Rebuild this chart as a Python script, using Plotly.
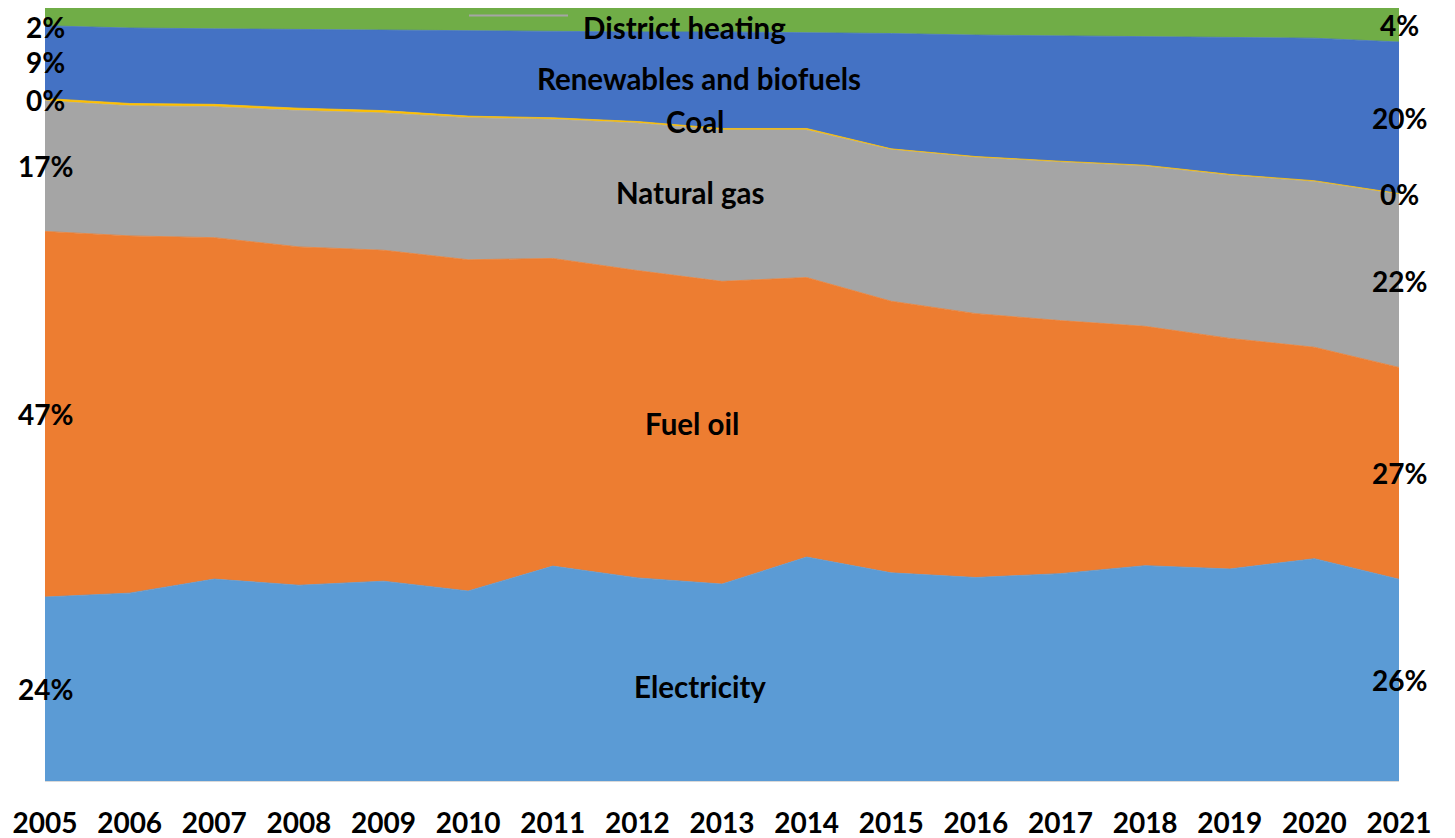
import plotly.graph_objects as go

years = [2005, 2006, 2007, 2008, 2009, 2010, 2011, 2012, 2013, 2014, 2015, 2016, 2017, 2018, 2019, 2020, 2021]
tick_labels = [str(y) for y in years]

electricity = [23.8, 24.4, 26.2, 25.4, 25.9, 24.6, 27.8, 26.3, 25.5, 29.0, 26.9, 26.3, 26.8, 27.8, 27.4, 28.7, 26.1]
fuel_oil = [47.3, 46.4, 44.3, 43.9, 42.9, 42.9, 39.8, 39.8, 39.2, 36.2, 35.1, 34.1, 32.7, 30.9, 29.8, 27.3, 27.4]
natural_gas = [16.9, 16.9, 17.0, 17.7, 17.8, 18.4, 18.0, 19.1, 19.6, 19.1, 19.6, 20.2, 20.5, 20.7, 21.1, 21.4, 22.4]
coal = [0.3, 0.3, 0.3, 0.3, 0.3, 0.2, 0.2, 0.2, 0.2, 0.2, 0.1, 0.1, 0.1, 0.1, 0.1, 0.1, 0.1]
renewables = [9.4, 9.8, 9.8, 10.2, 10.4, 11.1, 11.2, 11.6, 12.5, 12.4, 14.9, 15.7, 16.2, 16.6, 17.7, 18.4, 19.6]
district_heating = [2.3, 2.6, 2.7, 2.8, 2.9, 2.9, 3.0, 3.1, 3.1, 3.2, 3.3, 3.5, 3.6, 3.7, 3.8, 3.9, 4.4]

series = [
    ("Electricity", electricity, "#5B9BD5"),
    ("Fuel oil", fuel_oil, "#ED7D31"),
    ("Natural gas", natural_gas, "#A5A5A5"),
    ("Coal", coal, "#FFC000"),
    ("Renewables and biofuels", renewables, "#4472C4"),
    ("District heating", district_heating, "#70AD47"),
]

FONT = "Lato"
W, H = 1447, 830
L, R, T, B = 37, 56, 0, 57
PW, PH = W - L - R, H - T - B

fig = go.Figure()
for name, vals, col in series:
    fig.add_trace(go.Scatter(
        x=years, y=vals, name=name, mode="lines",
        stackgroup="one", groupnorm="percent",
        line=dict(color=col, width=0.8), fillcolor=col,
        hoverinfo="x+y+name",
    ))

annotations = []
# percentage labels at first and last year, centred on each band
for idx in (0, len(years) - 1):
    total = sum(s[1][idx] for s in series)
    cum = 0.0
    for name, vals, col in series:
        share = vals[idx] / total * 100
        mid = cum + share / 2
        cum += share
        at_top = mid > 98
        annotations.append(dict(
            x=years[idx], y=100 if at_top else mid, xref="x", yref="y",
            text=f"{round(share):d}%", showarrow=False,
            xanchor="center", yanchor="top" if at_top else "middle",
            font=dict(family=FONT, size=28, color="black", weight="bold"),
        ))

# series name labels inside the areas
name_labels = [
    ("Electricity", 2012.74, 12.2),
    ("Fuel oil", 2012.65, 46.2),
    ("Natural gas", 2012.63, 76.1),
    ("Coal", 2012.68, 85.3),
    ("Renewables and biofuels", 2012.73, 90.9),
    ("District heating", 2012.56, 100),
]
for txt, xv, yv in name_labels:
    at_top = yv >= 100
    annotations.append(dict(
        x=xv, y=yv, xref="x", yref="y", text=txt, showarrow=False,
        xanchor="center", yanchor="top" if at_top else "middle",
        font=dict(family=FONT, size=29.5, color="black", weight="bold"),
    ))

fig.update_layout(
    width=W, height=H,
    margin=dict(l=L, r=R, t=T, b=B, autoexpand=False),
    paper_bgcolor="white", plot_bgcolor="white",
    showlegend=False,
    annotations=annotations,
    shapes=[
        dict(type="line", xref="paper", yref="paper",
             x0=(461 - L) / PW, x1=(560 - L) / PW, y0=(PH - 7.5) / PH, y1=(PH - 7.5) / PH,
             line=dict(color="#A5A5A5", width=2)),
    ],
    xaxis=dict(
        range=[2005, 2021], tickmode="array", tickvals=years, ticktext=tick_labels,
        showgrid=False, zeroline=False, showline=True, linecolor="#D9D9D9", linewidth=1,
        ticks="outside", ticklen=17, tickcolor="rgba(0,0,0,0)",
        tickfont=dict(family=FONT, size=28, color="black", weight="bold"),
    ),
    yaxis=dict(range=[0, 100], visible=False, showgrid=False, zeroline=False),
)

fig.write_html("out.html")
